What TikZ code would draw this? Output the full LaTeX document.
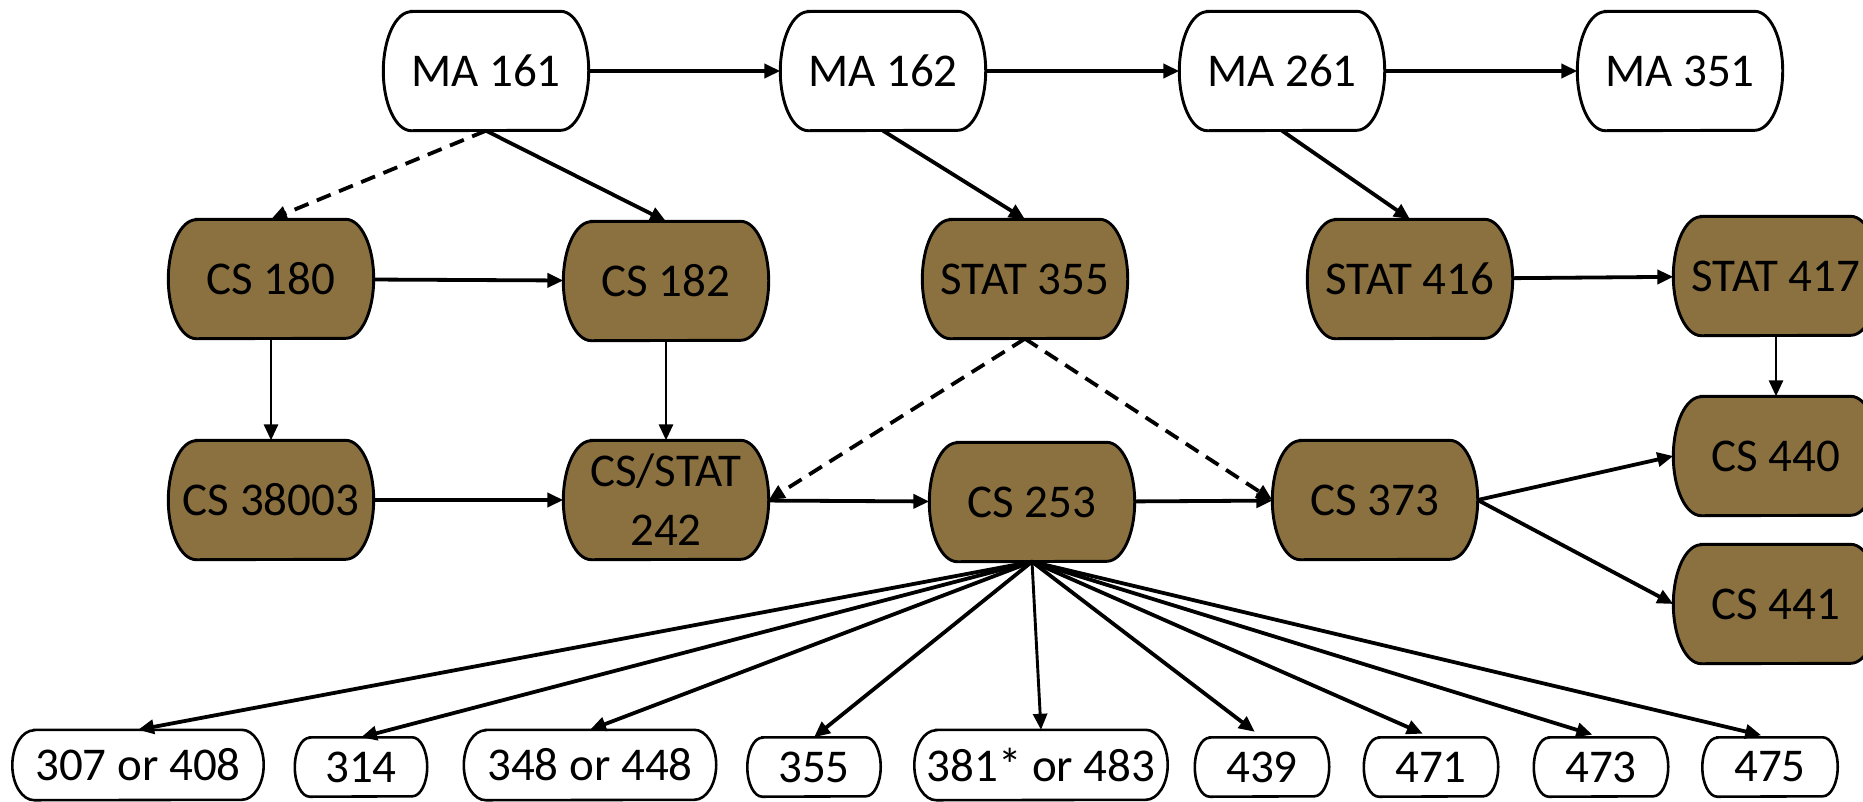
\documentclass[tikz,border=0pt]{standalone}
\usepackage{fontspec}
\setmainfont{Carlito}
\usetikzlibrary{arrows.meta,backgrounds}
\definecolor{brownfill}{RGB}{140,113,64}
\newcommand\capsuleshape[5]{% node, rx, ry, colour, line width
  \draw[line width=#5pt, fill=#4]
    ([xshift=#2pt]#1.north west) -- ([xshift=-#2pt]#1.north east)
    arc[start angle=90, end angle=-90, x radius=#2pt, y radius=#3pt]
    -- ([xshift=#2pt]#1.south west)
    arc[start angle=270, end angle=90, x radius=#2pt, y radius=#3pt]
    -- cycle;}
\begin{document}
\begin{tikzpicture}[x=1pt,y=-1pt,
 base/.style={rectangle, minimum width=205pt, minimum height=119pt, inner sep=0pt, font=\fontsize{47}{59}\selectfont, align=center},
 optnode/.style={rectangle, minimum height=59pt, inner sep=0pt, font=\fontsize{47}{52}\selectfont},
 optwide/.style={optnode, minimum height=70pt},
 arr/.style={-{Triangle[length=16pt,width=14pt]}, line width=3.8pt},
 thinarr/.style={arr, line width=2.9pt},
 darr/.style={arr, dash pattern=on 15pt off 9pt},
]
\useasboundingbox (0,0) rectangle (1863,801);
\clip (0,0) rectangle (1863,801);
% row 1
\node[base] (ma161) at (486,71) {MA 161};
\node[base] (ma162) at (883,71) {MA 162};
\node[base] (ma261) at (1282,71) {MA 261};
\node[base] (ma351) at (1680,71) {MA 351};
% row 2
\node[base] (cs180) at (271,279) {CS 180};
\node[base] (cs182) at (666,281) {CS 182};
\node[base] (stat355) at (1025,279) {STAT 355};
\node[base] (stat416) at (1410,279) {STAT 416};
\node[base] (stat417) at (1776,276) {STAT 417};
% row 3
\node[base] (cs38003) at (271,500) {CS 38003};
\node[base] (cs242) at (666,500) {CS/STAT\\242};
\node[base] (cs253) at (1032,502) {CS 253};
\node[base] (cs373) at (1375,500) {CS 373};
\node[base] (cs440) at (1776,456) {CS 440};
\node[base] (cs441) at (1776,604) {CS 441};
% row 4
\node[optwide, minimum width=251pt] (o307) at (138,765) {307 or 408};
\node[optnode, minimum width=132pt] (o314) at (361,767) {314};
\node[optwide, minimum width=252pt] (o348) at (590,765) {348 or 448};
\node[optnode, minimum width=133pt] (o355) at (814,767) {355};
\node[optwide, minimum width=253pt] (o381) at (1041,765) {381* or 483};
\node[optnode, minimum width=134pt] (o439) at (1262,767) {439};
\node[optnode, minimum width=134pt] (o471) at (1431,767) {471};
\node[optnode, minimum width=134pt] (o473) at (1601,767) {473};
\node[optnode, minimum width=135pt] (o475) at (1770,767) {475};
\begin{scope}[on background layer]
  \foreach \nd in {ma161,ma162,ma261,ma351}
    {\capsuleshape{\nd}{28}{59.5}{white}{2.9}}
  \foreach \nd in {cs180,cs182,stat355,stat416,stat417,cs38003,cs242,cs253,cs373,cs440,cs441}
    {\capsuleshape{\nd}{28}{59.5}{brownfill}{2.9}}
  \foreach \nd in {o307,o348,o381}
    {\capsuleshape{\nd}{22}{35}{white}{2.6}}
  \foreach \nd in {o314,o355,o439,o471,o473,o475}
    {\capsuleshape{\nd}{15}{29.5}{white}{2.6}}
\end{scope}
% connectors
\draw[arr] (ma161) -- (ma162);
\draw[arr] (ma162) -- (ma261);
\draw[arr] (ma261) -- (ma351);
\draw[darr] (ma161.south) -- (cs180.north);
\draw[arr] (ma161.south) -- (cs182.north);
\draw[arr] (ma162.south) -- (stat355.north);
\draw[arr] (ma261.south) -- (stat416.north);
\draw[arr] (cs180) -- (cs182);
\draw[arr] (stat416) -- (stat417);
\draw[thinarr] (stat417.south) -- (cs440.north);
\draw[thinarr] (cs180.south) -- (cs38003.north);
\draw[thinarr] (cs182.south) -- (cs242.north);
\draw[arr] (cs38003) -- (cs242);
\draw[darr] (stat355.south) -- (cs242.east);
\draw[darr] (stat355.south) -- (cs373.west);
\draw[arr] (cs242) -- (cs253);
\draw[arr] (cs253) -- (cs373);
\draw[arr] (cs373.east) -- (cs440.west);
\draw[arr] (cs373.east) -- (cs441.west);
\draw[arr] (cs253.south) -- (o307.north);
\draw[arr] (cs253.south) -- (o314.north);
\draw[arr] (cs253.south) -- (o348.north);
\draw[arr] (cs253.south) -- (o355.north);
\draw[thinarr] (cs253.south) -- (o381.north);
\draw[arr, shorten >=9pt] (cs253.south) -- (o439.north);
\draw[arr, shorten >=9pt] (cs253.south) -- (o471.north);
\draw[arr, shorten >=9pt] (cs253.south) -- (o473.north);
\draw[arr, shorten >=9pt] (cs253.south) -- (o475.north);
\end{tikzpicture}
\end{document}
